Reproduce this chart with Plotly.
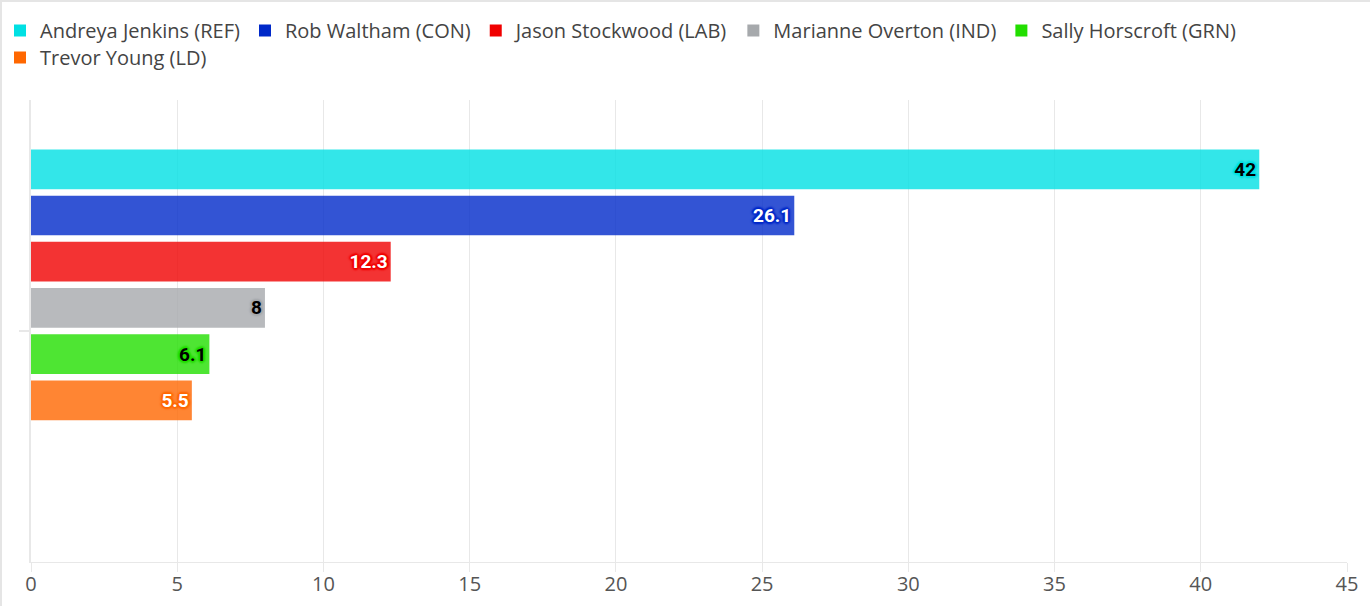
import plotly.graph_objects as go

candidates = ["Andreya Jenkins (REF)", "Rob Waltham (CON)", "Jason Stockwood (LAB)",
              "Marianne Overton (IND)", "Sally Horscroft (GRN)", "Trevor Young (LD)"]
shares = [42, 26.1, 12.3, 8, 6.1, 5.5]
labels = ["42", "26.1", "12.3", "8", "6.1", "5.5"]
colors = ["#00E0E3", "#0029C9", "#F00000", "#A6A9AC", "#22DE00", "#FF6700"]
label_colors = ["#000000", "#FFFFFF", "#FFFFFF", "#000000", "#000000", "#FFFFFF"]
legend_rows = ["legend", "legend", "legend", "legend", "legend", "legend2"]
category = [""]

W, H = 1372, 606
ML, MR, MT, MB = 31, 25, 100, 44
PW, PH = W - ML - MR, H - MT - MB

fig = go.Figure()
for name, v, lab, c, lc, lg in zip(candidates, shares, labels, colors, label_colors, legend_rows):
    halo = ", ".join(f"{dx}px {dy}px 2px {c}" for dx, dy in
                     [(1, 1), (-1, -1), (1, -1), (-1, 1), (0, 2), (2, 0), (0, -2), (-2, 0)])
    fig.add_trace(go.Bar(
        y=category, x=[v], name=name, orientation="h", legend=lg,
        marker=dict(color=c, opacity=0.8, line=dict(width=0)),
        text=[lab], textposition="inside", insidetextanchor="end",
        textfont=dict(family="Roboto", size=19, color=lc, weight="bold", shadow=halo),
        hoverinfo="x+name",
    ))
# two empty slots in the group
for _ in range(2):
    fig.add_trace(go.Bar(y=category, x=[None], orientation="h", showlegend=False,
                         hoverinfo="skip", marker=dict(color="rgba(0,0,0,0)")))

legend_style = dict(orientation="h", x=0, xref="container", yref="container",
                    xanchor="left", yanchor="top", font=dict(size=20, color="#444444"),
                    itemwidth=30, tracegroupgap=0, traceorder="normal",
                    bgcolor="rgba(0,0,0,0)")

fig.update_layout(
    width=W, height=H,
    barmode="group", bargap=0.2, bargroupgap=0.14,
    paper_bgcolor="white", plot_bgcolor="white",
    margin=dict(l=ML, r=MR, t=MT, b=MB, autoexpand=False),
    font=dict(family="Open Sans", color="#444444"),
    legend=dict(y=1 - 11 / H, **legend_style),
    legend2=dict(y=1 - 38 / H, **legend_style),
    xaxis=dict(range=[0, 45], dtick=5, showgrid=True, gridcolor="#E8E8E8", gridwidth=1,
               zeroline=False, showline=True, linecolor="#E8E8E8", linewidth=1,
               ticks="outside", ticklen=9, tickcolor="#E8E8E8", automargin=False,
               ticklabelstandoff=-5,
               tickfont=dict(size=20, color="#555555", family="Open Sans")),
    yaxis=dict(autorange="reversed", showgrid=False, zeroline=False, showline=True,
               linecolor="#E8E8E8", linewidth=2, ticks="outside", ticklen=10,
               tickcolor="#E8E8E8", tickwidth=2, showticklabels=False, automargin=False),
    shapes=[
        dict(type="line", xref="paper", yref="paper",
             x0=-(ML - 1) / PW, x1=-(ML - 1) / PW, y0=-2, y1=1 + MT / PH,
             line=dict(color="#E5E5E5", width=2), layer="below"),
        dict(type="line", xref="paper", yref="paper",
             x0=-ML / PW, x1=1 + (MR - 2) / PW, y0=1 + (MT - 1) / PH, y1=1 + (MT - 1) / PH,
             line=dict(color="#E5E5E5", width=2), layer="below"),
    ],
)
fig.write_html("out.html", config={"displayModeBar": False},
               post_script="document.body.style.margin='0';")
